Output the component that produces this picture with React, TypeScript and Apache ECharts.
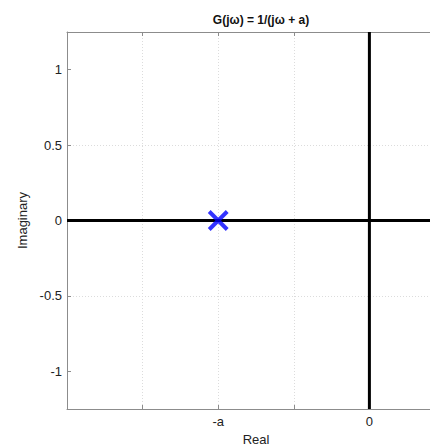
import React, { useEffect, useRef } from "react";
import * as echarts from "echarts";

const titleText = "G(jω) = 1/(jω + a)";
const xName = "Real";
const yName = "Imaginary";
const xRange = [-4, 1];
const yRange = [-1.25, 1.25];
const xTickLabels: Record<string, string> = { "-2": "-a", "0": "0" };
const yTickValues = [-1, -0.5, 0, 0.5, 1];
const realAxisLine = [[-4, 0], [1, 0]];
const imagAxisLine = [[0, -1.25], [0, 1.25]];
const poles = [[-2, 0]];

const FONT = "'Liberation Sans', Arial, sans-serif";
const AXIS_GRAY = "#8c8c8c";

export default function App() {
  const ref = useRef<HTMLDivElement>(null);
  useEffect(() => {
    const chart = echarts.init(ref.current!, null, { renderer: "svg" });
    chart.setOption({
      animation: false,
      backgroundColor: "#ffffff",
      textStyle: { fontFamily: FONT },
      title: {
        text: titleText,
        left: 256,
        top: 9,
        textAlign: "center",
        textStyle: { fontFamily: FONT, fontSize: 12, fontWeight: "bold", color: "#111" },
      },
      grid: {
        left: 67,
        top: 32,
        bottom: 38,
        right: -15,
        containLabel: false,
        outerBoundsMode: "none",
      },
      xAxis: [
        {
          type: "value",
          min: xRange[0],
          max: xRange[1],
          interval: 1,
          position: "bottom",
          name: xName,
          nameLocation: "middle",
          nameGap: 23,
          nameTextStyle: { fontFamily: FONT, fontSize: 13, color: "#222" },
          axisLine: { onZero: false, lineStyle: { color: AXIS_GRAY, width: 1 } },
          axisTick: { inside: true, length: 4, lineStyle: { color: AXIS_GRAY } },
          axisLabel: {
            margin: 6,
            fontFamily: FONT,
            fontSize: 13,
            color: "#222",
            formatter: (v: number) => xTickLabels[String(v)] ?? "",
          },
          splitLine: { show: true, lineStyle: { color: "#dcdcdc", type: [1, 2], width: 1 } },
        },
        {
          type: "value",
          min: xRange[0],
          max: xRange[1],
          interval: 1,
          position: "top",
          axisLine: { onZero: false, lineStyle: { color: AXIS_GRAY, width: 1 } },
          axisTick: { inside: true, length: 4, lineStyle: { color: AXIS_GRAY } },
          axisLabel: { show: false },
          splitLine: { show: false },
        },
      ],
      yAxis: [
        {
          type: "value",
          min: yRange[0],
          max: yRange[1],
          interval: 0.25,
          name: yName,
          nameLocation: "middle",
          nameRotate: 90,
          nameGap: 33,
          nameTextStyle: { fontFamily: FONT, fontSize: 13, color: "#222" },
          axisLine: { show: true, onZero: false, lineStyle: { color: AXIS_GRAY, width: 1 } },
          axisTick: { show: true, inside: true, length: 4, customValues: yTickValues, lineStyle: { color: AXIS_GRAY } },
          axisLabel: {
            margin: 5,
            fontFamily: FONT,
            fontSize: 13,
            color: "#222",
            customValues: yTickValues,
          },
          splitLine: {
            show: true,
            showMinLine: true,
            lineStyle: { color: ["transparent", "#dcdcdc"], type: [1, 2], width: 1 },
          },
        },
      ],
      series: [
        {
          type: "line",
          data: realAxisLine,
          symbol: "none",
          lineStyle: { color: "#000", width: 3 },
          silent: true,
          z: 3,
        },
        {
          type: "line",
          data: imagAxisLine,
          symbol: "none",
          lineStyle: { color: "#000", width: 3 },
          silent: true,
          z: 3,
        },
        {
          type: "scatter",
          data: poles,
          symbol: "path://M0 0L10 10M10 0L0 10",
          symbolSize: 18,
          itemStyle: { color: "transparent", borderColor: "#0000ff", borderWidth: 4 },
          z: 5,
        },
      ],
    });
    return () => chart.dispose();
  }, []);
  return (
    <div
      ref={ref}
      style={{ position: "absolute", left: 0, top: 0, width: 430, height: 447 }}
    />
  );
}
